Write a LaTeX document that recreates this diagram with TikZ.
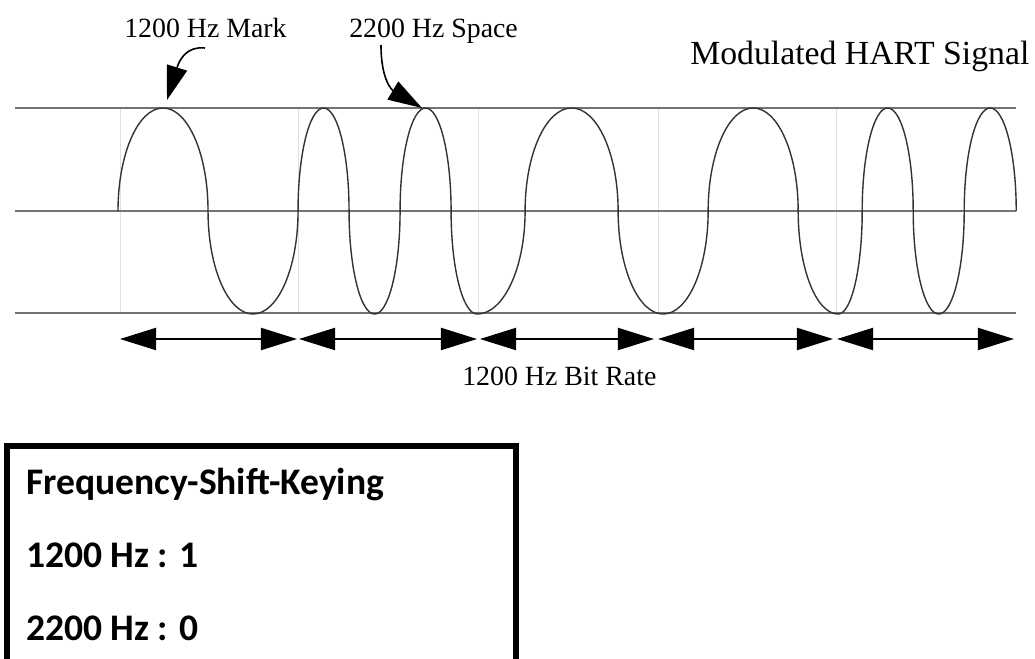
\documentclass[tikz,border=0pt]{standalone}
\usepackage{fontspec}
\setmainfont{Liberation Serif}
\newfontfamily\calibri{Carlito}
\usetikzlibrary{arrows.meta}

\begin{document}
\begin{tikzpicture}[
    x=0.025cm, y=-0.025cm,
    level/.style={draw=black!55, line width=0.06cm},
    bitline/.style={draw=black!12, line width=0.02cm},
    wave/.style={draw=black!80, line width=0.035cm},
    bitarrow/.style={line width=0.05cm, arrows={Triangle[length=0.9cm, width=0.55cm]-Triangle[length=0.9cm, width=0.55cm]}},
    pointer/.style={line width=0.04cm, -{Triangle[length=0.85cm, width=0.52cm]}},
    label text/.style={inner sep=0pt, anchor=base west, font=\fontsize{19.8}{24}\selectfont},
    box text/.style={inner sep=0pt, anchor=base west, font=\calibri\bfseries\fontsize{26.7}{32}\selectfont},
    fskbox/.style={draw, line width=0.13cm},
    up/.style={start angle=180, end angle=0, y radius=2.575cm, x radius=#1},
    down/.style={start angle=180, end angle=360, y radius=2.575cm, x radius=#1}
]
\useasboundingbox (0,0) rectangle (1035,659);

% Bit borders and signal levels
\foreach \bx in {120,298,478,658,836}
    \draw[bitline] (\bx,108) -- (\bx,313);
\foreach \ly in {108,211,313}
    \draw[level] (15,\ly) -- (1016,\ly);

% Signal, bits 1 0 1 1 0
\coordinate (start) at (118,211);
\draw[wave] (start)
    arc[up=1.125cm] arc[down=1.125cm]                            % 1200 Hz
    arc[up=0.6375cm] arc[down=0.6375cm] arc[up=0.6375cm]         % 2200 Hz
    arc[start angle=180, end angle=270, x radius=0.65cm, y radius=2.575cm]
    arc[start angle=270, end angle=360, x radius=1.2cm, y radius=2.575cm]
    arc[up=1.1625cm] arc[down=1.125cm]                           % 1200 Hz
    arc[up=1.125cm]                                              % 1200 Hz
    arc[start angle=180, end angle=270, x radius=1cm, y radius=2.575cm]
    arc[start angle=270, end angle=360, x radius=0.6cm, y radius=2.575cm]
    arc[up=0.6375cm] arc[down=0.6375cm] arc[up=0.65cm];         % 2200 Hz

% Labels
\node[label text] (mark) at (124,37) {1200 Hz Mark};
\node[label text] (space) at (349,37) {2200 Hz Space};
\node[label text, font=\fontsize{24}{29}\selectfont] (title) at (690,64) {Modulated HART Signal};
\node[label text] (rate) at (462,385) {1200 Hz Bit Rate};

% Pointers
\coordinate (markfrom) at (205,48);
\coordinate (markpeak) at (167,100);
\coordinate (spacefrom) at (381,45);
\coordinate (spacepeak) at (422,108);
\draw[pointer] (markfrom) .. controls (188,46) and (180,58) .. (markpeak);
\draw[pointer] (spacefrom) .. controls (381,80) and (392,90) .. (spacepeak);

% Bit rate
\foreach \a/\b [count=\i] in {120/297, 299/477, 480/654, 658/833, 837/1014} {
    \coordinate (bl\i) at (\a,339);
    \coordinate (br\i) at (\b,339);
    \draw[bitarrow] (bl\i) -- (br\i);
}

% Legend
\draw[fskbox] (7,446) rectangle (516,690);
\node[box text] (fsk) at (26,494) {Frequency-Shift-Keying};
\node[box text] (one) at (26,567) {1200 Hz : 1};
\node[box text] (zero) at (26,640) {2200 Hz : 0};

\end{tikzpicture}
\end{document}
